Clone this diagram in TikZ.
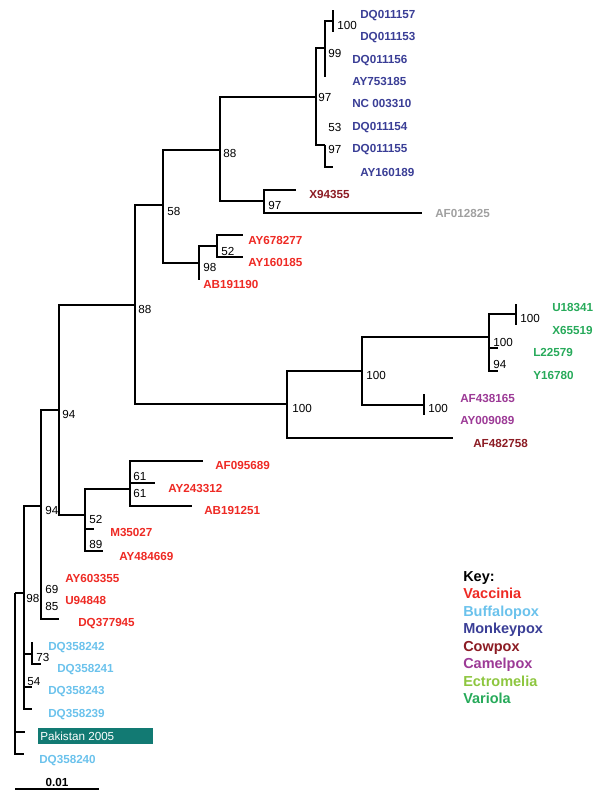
\documentclass[tikz,border=0pt]{standalone}
\usepackage{fontspec}
\setmainfont{Liberation Sans}
\definecolor{vac}{RGB}{238,42,36}
\definecolor{buf}{RGB}{107,194,236}
\definecolor{mon}{RGB}{58,62,150}
\definecolor{cow}{RGB}{140,28,36}
\definecolor{cam}{RGB}{156,58,150}
\definecolor{ect}{RGB}{141,198,63}
\definecolor{var}{RGB}{39,170,90}
\definecolor{unk}{RGB}{160,160,160}
\definecolor{pakteal}{RGB}{18,122,115}
\tikzset{
  branch/.style = {line width=1.3pt},
  leaf/.style = {font=\bfseries\fontsize{8.3}{10}\selectfont, anchor=base west, inner sep=0pt},
  boot/.style = {font=\fontsize{8.3}{10}\selectfont, anchor=base west, inner sep=0pt},
  keytxt/.style = {font=\bfseries\fontsize{10.3}{12}\selectfont, anchor=base west, inner sep=0pt}
}
\begin{document}
\begin{tikzpicture}[x = 0.025cm, y = -0.025cm]
    \useasboundingbox (0,0) rectangle (600,805);
    % internal nodes and tips
    \coordinate (root) at (15,593);
    \coordinate (n98) at (24,593);
    \coordinate (pak) at (25,732);
    \coordinate (l240) at (24,754);
    \coordinate (n94b) at (41,506);
    \coordinate (n73) at (32,654);
    \coordinate (l243) at (32,687);
    \coordinate (l239) at (32,709);
    \coordinate (l242) at (32,642);
    \coordinate (l241) at (41,664);
    \coordinate (n94a) at (59,410);
    \coordinate (l355) at (41,578);
    \coordinate (l848) at (41,600);
    \coordinate (l945) at (59,619);
    \coordinate (n88a) at (135,305);
    \coordinate (n52b) at (85,515);
    \coordinate (n61) at (130,489);
    \coordinate (l027) at (94,529);
    \coordinate (l669) at (103,551);
    \coordinate (l689) at (203,461);
    \coordinate (l312) at (155,483);
    \coordinate (l251) at (192,506);
    \coordinate (n58) at (163,205);
    \coordinate (n100a) at (287,404);
    \coordinate (n88b) at (220,150);
    \coordinate (n98b) at (199,263);
    \coordinate (n52a) at (217,246);
    \coordinate (l190) at (199,280);
    \coordinate (l277) at (243,235);
    \coordinate (l185) at (243,257);
    \coordinate (n97a) at (316,97);
    \coordinate (n97b) at (264,201);
    \coordinate (lx94) at (296,190);
    \coordinate (l825) at (422,213);
    \coordinate (n99) at (325,48);
    \coordinate (n97c) at (325,145);
    \coordinate (l310) at (316,103);
    \coordinate (l154) at (316,126);
    \coordinate (n100m) at (333,21);
    \coordinate (l156) at (325,59);
    \coordinate (l753) at (325,77);
    \coordinate (l157) at (333,10);
    \coordinate (l153) at (333,32);
    \coordinate (l155) at (325,149);
    \coordinate (l189) at (333,167);
    \coordinate (n100b) at (362,371);
    \coordinate (l758) at (453,438);
    \coordinate (n100c) at (489,337);
    \coordinate (n100k) at (424,405);
    \coordinate (l165) at (424,394);
    \coordinate (l089) at (424,415);
    \coordinate (n100v) at (516,314);
    \coordinate (l579) at (498,348);
    \coordinate (l780) at (498,371);
    \coordinate (l341) at (516,304);
    \coordinate (l519) at (516,325);

    % branches
    \draw[branch]
    (root) |- (n98) (root) |- (pak) (root) |- (l240)
    (n98) |- (n94b) (n98) |- (n73) (n98) |- (l243) (n98) |- (l239)
    (n73) |- (l242) (n73) |- (l241)
    (n94b) |- (n94a) (n94b) |- (l355) (n94b) |- (l848) (n94b) |- (l945)
    (n94a) |- (n88a) (n94a) |- (n52b)
    (n52b) |- (n61) (n52b) |- (l027) (n52b) |- (l669)
    (n61) |- (l689) (n61) |- (l312) (n61) |- (l251);
    \draw[branch]
    (n88a) |- (n58) (n88a) |- (n100a)
    (n58) |- (n88b) (n58) |- (n98b)
    (n98b) |- (n52a) (n98b) |- (l190)
    (n52a) |- (l277) (n52a) |- (l185)
    (n88b) |- (n97a) (n88b) |- (n97b)
    (n97b) |- (lx94) (n97b) |- (l825)
    (n97a) |- (n99) (n97a) |- (n97c) (n97a) |- (l310) (n97a) |- (l154)
    (n99) |- (n100m) (n99) |- (l156) (n99) |- (l753)
    (n100m) |- (l157) (n100m) |- (l153)
    (n97c) |- (l155) (n97c) |- (l189);
    \draw[branch]
    (n100a) |- (n100b) (n100a) |- (l758)
    (n100b) |- (n100c) (n100b) |- (n100k)
    (n100k) |- (l165) (n100k) |- (l089)
    (n100c) |- (n100v) (n100c) |- (l579) (n100c) |- (l780)
    (n100v) |- (l341) (n100v) |- (l519);

    % tip labels
    \node[leaf, text=mon] (t157) at (360,18) {DQ011157};
    \node[leaf, text=mon] (t153) at (360,40) {DQ011153};
    \node[leaf, text=mon] (t156) at (352,63) {DQ011156};
    \node[leaf, text=mon] (t753) at (352,85) {AY753185};
    \node[leaf, text=mon] (t310) at (352,107) {NC 003310};
    \node[leaf, text=mon] (t154) at (352,130) {DQ011154};
    \node[leaf, text=mon] (t155) at (352,152) {DQ011155};
    \node[leaf, text=mon] (t189) at (360,176) {AY160189};
    \node[leaf, text=cow] (tx94) at (309,198) {X94355};
    \node[leaf, text=unk] (t825) at (435,217) {AF012825};
    \node[leaf, text=vac] (t277) at (248,244) {AY678277};
    \node[leaf, text=vac] (t185) at (248,266) {AY160185};
    \node[leaf, text=vac] (t190) at (203,288) {AB191190};
    \node[leaf, text=var] (t341) at (552,311) {U18341};
    \node[leaf, text=var] (t519) at (552,334) {X65519};
    \node[leaf, text=var] (t579) at (533,356) {L22579};
    \node[leaf, text=var] (t780) at (533,379) {Y16780};
    \node[leaf, text=cam] (t165) at (460,402) {AF438165};
    \node[leaf, text=cam] (t089) at (460,424) {AY009089};
    \node[leaf, text=cow] (t758) at (473,447) {AF482758};
    \node[leaf, text=vac] (t689) at (215,469) {AF095689};
    \node[leaf, text=vac] (t312) at (168,492) {AY243312};
    \node[leaf, text=vac] (t251) at (204,514) {AB191251};
    \node[leaf, text=vac] (t027) at (110,536) {M35027};
    \node[leaf, text=vac] (t669) at (119,560) {AY484669};
    \node[leaf, text=vac] (t355) at (65,582) {AY603355};
    \node[leaf, text=vac] (t848) at (65,604) {U94848};
    \node[leaf, text=vac] (t945) at (78,626) {DQ377945};
    \node[leaf, text=buf] (t242) at (48,650) {DQ358242};
    \node[leaf, text=buf] (t241) at (57,672) {DQ358241};
    \node[leaf, text=buf] (t243) at (48,694) {DQ358243};
    \node[leaf, text=buf] (t239) at (48,717) {DQ358239};
    \fill[pakteal] (38,728) rectangle (153,744);
    \node[boot, text=white] (tpak) at (40,740) {Pakistan 2005};
    \node[leaf, text=buf] (t240) at (39,763) {DQ358240};

    % bootstrap values
    \node[boot] (b100m) at (337,29) {100};
    \node[boot] (b99) at (328,57) {99};
    \node[boot] (b97a) at (318,101) {97};
    \node[boot] (b53) at (328,131) {53};
    \node[boot] (b97c) at (328,153) {97};
    \node[boot] (b88b) at (223,157) {88};
    \node[boot] (b97b) at (268,209) {97};
    \node[boot] (b58) at (167,215) {58};
    \node[boot] (b52a) at (221,255) {52};
    \node[boot] (b98b) at (203,271) {98};
    \node[boot] (b88a) at (138,313) {88};
    \node[boot] (b100v) at (520,322) {100};
    \node[boot] (b100c) at (493,346) {100};
    \node[boot] (b94v) at (493,368) {94};
    \node[boot] (b100b) at (366,379) {100};
    \node[boot] (b100k) at (428,412) {100};
    \node[boot] (b100a) at (292,412) {100};
    \node[boot] (b94a) at (62,418) {94};
    \node[boot] (b61a) at (133,480) {61};
    \node[boot] (b61b) at (133,497) {61};
    \node[boot] (b94b) at (45,514) {94};
    \node[boot] (b52b) at (89,523) {52};
    \node[boot] (b89) at (89,548) {89};
    \node[boot] (b69) at (45,593) {69};
    \node[boot] (b98) at (26,602) {98};
    \node[boot] (b85) at (45,610) {85};
    \node[boot] (b73) at (36,661) {73};
    \node[boot] (b54) at (27,685) {54};

    % scale bar
    \coordinate (s0) at (15,789);
    \coordinate (s1) at (99,789);
    \draw[branch] (s0) -- (s1);
    \node[boot, font=\bfseries\fontsize{8.3}{10}\selectfont, anchor=base] (scale) at (57,786) {0.01};

    % key
    \node[keytxt] (key) at (463,581) {Key:};
    \foreach \name/\col [count=\i] in {Vaccinia/vac, Buffalopox/buf, Monkeypox/mon, Cowpox/cow, Camelpox/cam, Ectromelia/ect, Variola/var}
        \node[keytxt, text=\col] (key\i) at (463,581+17.5*\i) {\name};
\end{tikzpicture}
\end{document}
